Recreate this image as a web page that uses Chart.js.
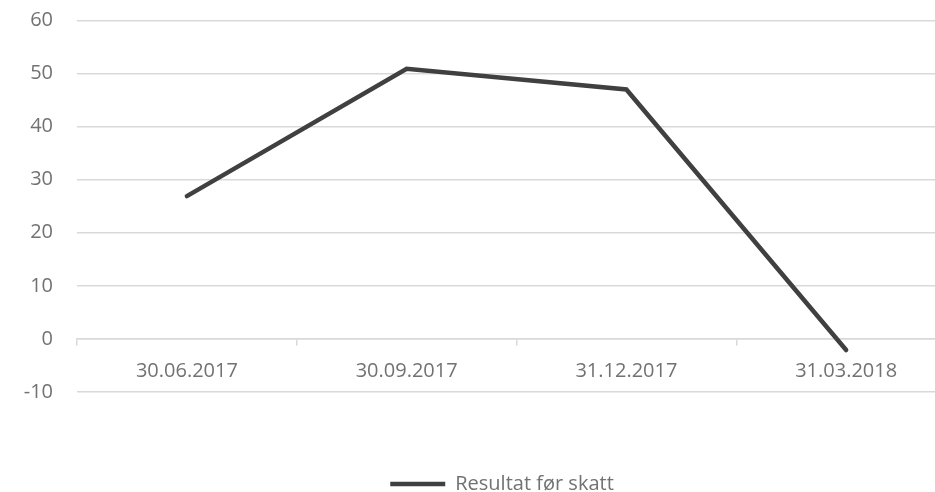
<!DOCTYPE html>
<html>
<head>
<meta charset="utf-8">
<script src="https://cdn.jsdelivr.net/npm/chart.js@4/dist/chart.umd.min.js"></script>
<style>
html,body{margin:0;padding:0;background:#fff;overflow:hidden;}
#wrap{width:1004px;height:492px;}
</style>
</head>
<body>
<div id="wrap"><canvas id="chart"></canvas></div>
<script>
const quarters = ['30.06.2017', '30.09.2017', '31.12.2017', '31.03.2018'];
const resultatForSkatt = [26.9, 50.9, 47.0, -2.1];
const yMin = -10, yMax = 60, yStep = 10;

const textColor = '#727272';
const gridColor = '#d9d9d9';
const font = {family: '"Open Sans", sans-serif', size: 20};

const ctx = document.querySelector('#chart').getContext('2d');

new Chart(ctx, {
    type: 'line',
    data: {
        labels: quarters,
        datasets: [{
            label: 'Resultat før skatt',
            data: resultatForSkatt,
            borderColor: '#404040',
            backgroundColor: '#404040',
            borderWidth: 4.5,
            borderCapStyle: 'round',
            borderJoinStyle: 'miter',
            pointRadius: 0,
            tension: 0,
            fill: false
        }]
    },
    options: {
        responsive: true,
        maintainAspectRatio: false,
        animation: false,
        layout: {padding: {top: 20.5, right: 0, left: 0, bottom: -12}},
        plugins: {
            tooltip: {enabled: false},
            legend: {
                position: 'bottom',
                title: {display: true, text: '', font: {size: 10}, padding: {top: 70, bottom: 0}},
                labels: {
                    usePointStyle: true,
                    pointStyle: 'line',
                    pointStyleWidth: 55,
                    color: textColor,
                    font: font,
                    padding: 0
                }
            }
        },
        scales: {
            x: {
                position: {y: 0},
                offset: true,
                grid: {offset: true, drawOnChartArea: false, drawTicks: true, tickLength: 6, color: gridColor, lineWidth: 1.5},
                border: {display: true, color: gridColor, width: 1.5},
                ticks: {padding: 14, color: textColor, font: font, maxRotation: 0},
                afterFit: s => { s.paddingLeft = 0; s.paddingRight = 0; s.paddingTop = 0; s.paddingBottom = 0; }
            },
            y: {
                min: yMin,
                max: yMax,
                ticks: {stepSize: yStep, padding: 24, color: textColor, font: font},
                grid: {color: gridColor, lineWidth: 1.5, drawTicks: false},
                border: {display: false},
                afterFit: s => { s.width = 77; s.paddingTop = 0; s.paddingBottom = 0; }
            },
            // empty right axis keeps the plot clear of the right edge
            yRight: {
                position: 'right',
                ticks: {display: false},
                grid: {display: false},
                border: {display: false},
                afterFit: s => { s.width = 48; s.paddingTop = 0; s.paddingBottom = 0; }
            }
        }
    }
});
</script>
</body>
</html>
